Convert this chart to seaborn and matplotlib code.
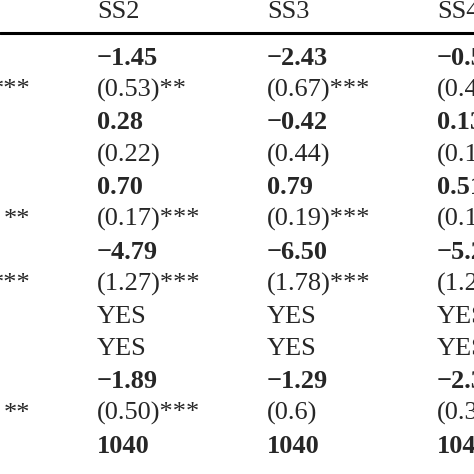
import seaborn as sns
import matplotlib
import matplotlib.pyplot as plt
matplotlib.use('Agg')

sns.set_style('white')
plt.rcParams['font.family'] = ['Liberation Serif', 'DejaVu Serif']

headers = ['', 'SS2', 'SS3', 'SS4']
col0 = ['', '***', '', '', '', '**', '', '***', '', '', '', '**', '']
ss2 = ['−1.45', '(0.53)**', '0.28', '(0.22)', '0.70', '(0.17)***', '−4.79', '(1.27)***',
       'YES', 'YES', '−1.89', '(0.50)***', '1040']
ss3 = ['−2.43', '(0.67)***', '−0.42', '(0.44)', '0.79', '(0.19)***', '−6.50', '(1.78)***',
       'YES', 'YES', '−1.29', '(0.6)', '1040']
ss4 = ['−0.51', '(0.41)', '0.13', '(0.17)', '0.51', '(0.14)', '−5.20', '(1.23)',
       'YES', 'YES', '−2.30', '(0.38)', '1040']
bold_rows = [0, 2, 4, 6, 10, 12]

fig = plt.figure(figsize=(4.74, 4.74), dpi=100)
ax = fig.add_axes([0, 0, 1, 1])
ax.set_xlim(0, 474)
ax.set_ylim(12.86, -1.793)
ax.axis('off')

fs = 19
xs = [97, 267, 437]
for x, h in zip(xs, headers[1:]):
    ax.text(x, -1.42, h, fontsize=fs, va='center', ha='left')
ax.plot([0, 474], [-0.773, -0.773], color='black', lw=2.2)

for i in range(len(ss2)):
    w = 'bold' if i in bold_rows else 'normal'
    ax.text(30, i, col0[i], fontsize=fs, va='center', ha='right')
    for x, col in zip(xs, [ss2, ss3, ss4]):
        ax.text(x, i, col[i], fontsize=fs, va='center', ha='left', fontweight=w)

fig.savefig('out.png', dpi=100)
